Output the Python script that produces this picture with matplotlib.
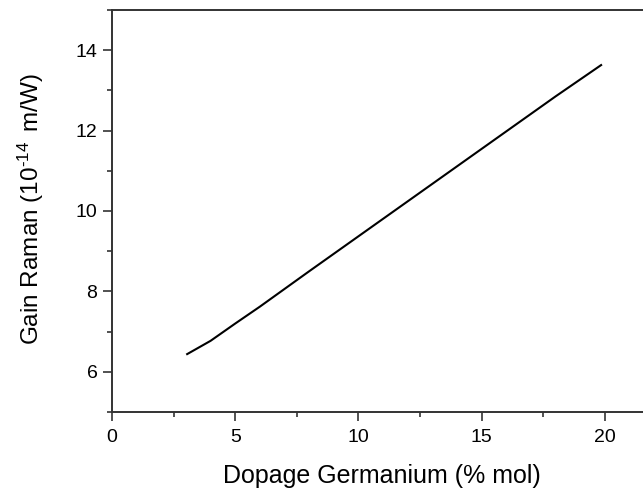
import numpy as np
import matplotlib
matplotlib.use("Agg")
import matplotlib.pyplot as plt
from matplotlib.ticker import MultipleLocator

plt.rcParams['font.family'] = ['Liberation Sans', 'DejaVu Sans']
plt.rcParams['mathtext.fontset'] = 'custom'
plt.rcParams['mathtext.rm'] = 'Liberation Sans'
plt.rcParams['mathtext.it'] = 'Liberation Sans'

# dopage (% mol) vs gain Raman (1e-14 m/W)
dopage = [3.05, 4.0, 5.0, 6.0, 8.0, 10.0, 12.0, 14.0, 16.0, 18.0, 19.85]
gain = [6.44, 6.77, 7.20, 7.62, 8.50, 9.37, 10.24, 11.11, 11.98, 12.85, 13.63]

xticks = [0, 5, 10, 15, 20]
yticks = [6, 8, 10, 12, 14]

fig = plt.figure(figsize=(6.43, 4.95), dpi=100)
ax = fig.add_axes([0.1742, 0.1677, 0.8258, 0.8121])

ax.plot(dopage, gain, color='black', lw=1.5)

ax.set_xlim(0, 21.55)
ax.set_ylim(5, 15)
ax.set_xticks(xticks)
ax.set_yticks(yticks)
ax.xaxis.set_minor_locator(MultipleLocator(2.5))
ax.yaxis.set_minor_locator(MultipleLocator(1))

ax.spines['right'].set_visible(False)
for s in ['left', 'bottom', 'top']:
    ax.spines[s].set_linewidth(1.4)
    ax.spines[s].set_color('#333333')

ax.tick_params(which='major', direction='out', length=6.5, width=1.2, labelsize=14, color='#333333', pad=4)
ax.tick_params(which='minor', direction='out', length=3.6, width=1.2, color='#333333')
ax.tick_params(axis='x', which='major', pad=6)
ax.tick_params(top=False, right=False)

ax.set_xlabel('Dopage Germanium (% mol)', fontsize=18)
ax.set_ylabel(r'Gain Raman (10$^{\text{-14}}\,$ m/W)', fontsize=17.5)
ax.xaxis.set_label_coords(0.509, -0.13)
ax.yaxis.set_label_coords(-0.125, 0.505)

fig.savefig('out.png', dpi=100)
